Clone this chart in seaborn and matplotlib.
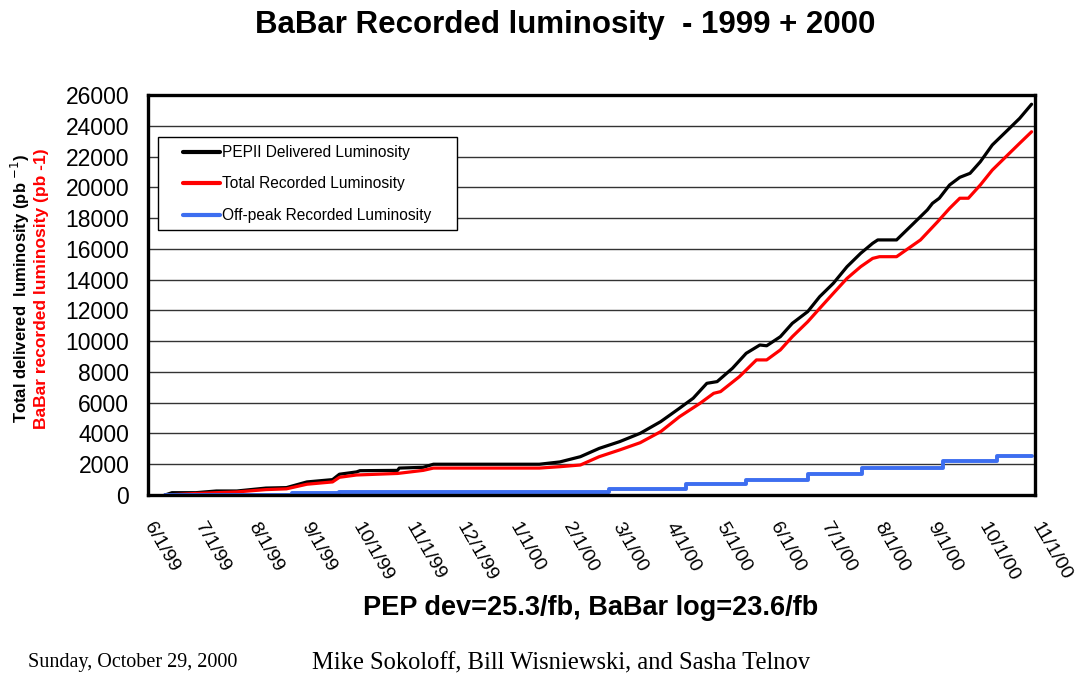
import matplotlib
matplotlib.use("Agg")
import matplotlib.pyplot as plt
from matplotlib.patches import Rectangle
import seaborn as sns
import pandas as pd

# ---------------- data ----------------
pep_dates = ["1999-06-11", "1999-06-15", "1999-06-29", "1999-07-11", "1999-07-23",
             "1999-08-09", "1999-08-21", "1999-09-02", "1999-09-17", "1999-09-21",
             "1999-10-01", "1999-10-03", "1999-10-25", "1999-10-26", "1999-11-09",
             "1999-11-15", "2000-01-16", "2000-01-28", "2000-02-09", "2000-02-20",
             "2000-03-03", "2000-03-15", "2000-03-27", "2000-04-07", "2000-04-15",
             "2000-04-23", "2000-04-29", "2000-05-08", "2000-05-16", "2000-05-24",
             "2000-05-28", "2000-06-05", "2000-06-12", "2000-06-21", "2000-06-28",
             "2000-07-06", "2000-07-14", "2000-07-22", "2000-07-29", "2000-08-01",
             "2000-08-12", "2000-08-22", "2000-08-30", "2000-09-02", "2000-09-06",
             "2000-09-12", "2000-09-18", "2000-09-24", "2000-09-30", "2000-10-07",
             "2000-10-16", "2000-10-23", "2000-10-30"]
pep_values = [0, 150, 150, 260, 260,
              450, 480, 850, 1000, 1350,
              1500, 1580, 1600, 1750, 1800,
              2000, 2000, 2150, 2490, 3030,
              3470, 4010, 4770, 5640, 6290,
              7260, 7370, 8240, 9210, 9750,
              9700, 10290, 11160, 11920, 12890,
              13760, 14840, 15710, 16360, 16580,
              16580, 17660, 18530, 18960, 19290,
              20150, 20650, 20910, 21660, 22750,
              23720, 24480, 25400]

rec_dates = ["1999-06-11", "1999-06-29", "1999-07-23", "1999-08-09", "1999-08-21",
             "1999-09-02", "1999-09-17", "1999-09-21", "1999-10-01", "1999-10-25",
             "1999-11-09", "1999-11-15", "2000-01-16", "2000-01-28", "2000-02-09",
             "2000-02-20", "2000-03-03", "2000-03-15", "2000-03-27", "2000-04-07",
             "2000-04-19", "2000-04-27", "2000-05-01", "2000-05-12", "2000-05-22",
             "2000-05-28", "2000-06-05", "2000-06-12", "2000-06-21", "2000-06-28",
             "2000-07-06", "2000-07-14", "2000-07-22", "2000-07-29", "2000-08-02",
             "2000-08-12", "2000-08-26", "2000-09-05", "2000-09-12", "2000-09-18",
             "2000-09-23", "2000-09-30", "2000-10-07", "2000-10-16", "2000-10-23",
             "2000-10-30"]
rec_values = [0, 100, 200, 350, 400,
              700, 850, 1150, 1300, 1400,
              1600, 1750, 1750, 1840, 1950,
              2490, 2930, 3400, 4120, 5090,
              5960, 6610, 6720, 7690, 8780,
              8780, 9430, 10290, 11260, 12130,
              13110, 14080, 14840, 15380, 15490,
              15490, 16580, 17760, 18630, 19290,
              19290, 20150, 21120, 22100, 22860,
              23610]

off_dates = ["1999-06-11", "1999-08-24", "1999-09-21", "2000-02-26", "2000-04-11",
             "2000-05-16", "2000-06-21", "2000-07-23", "2000-09-08", "2000-10-10",
             "2000-10-30"]
off_values = [0, 100, 200, 370, 690, 975, 1340, 1730, 2210, 2560, 2560]

series_labels = ["PEPII Delivered Luminosity", "Total Recorded Luminosity",
                 "Off-peak Recorded Luminosity"]
tick_dates = pd.date_range("1999-06-01", "2000-11-01", freq="MS")
tick_labels = ["6/1/99", "7/1/99", "8/1/99", "9/1/99", "10/1/99", "11/1/99",
               "12/1/99", "1/1/00", "2/1/00", "3/1/00", "4/1/00", "5/1/00",
               "6/1/00", "7/1/00", "8/1/00", "9/1/00", "10/1/00", "11/1/00"]
y_ticks = list(range(0, 26001, 2000))

# ---------------- plot ----------------
sns.set_theme(style="white")
plt.rcParams["font.family"] = ["Liberation Sans", "DejaVu Sans"]
plt.rcParams["text.color"] = "black"
plt.rcParams["xtick.color"] = "black"
plt.rcParams["ytick.color"] = "black"
plt.rcParams["axes.labelcolor"] = "black"

W, H = 1077, 679
fig = plt.figure(figsize=(W / 100, H / 100), dpi=100)
ax = fig.add_axes([148 / W, 1 - 495 / H, (1035 - 148) / W, 400 / H])

pep = pd.DataFrame({"date": pd.to_datetime(pep_dates), "lum": pep_values})
rec = pd.DataFrame({"date": pd.to_datetime(rec_dates), "lum": rec_values})
off = pd.DataFrame({"date": pd.to_datetime(off_dates), "lum": off_values})

sns.lineplot(data=pep, x="date", y="lum", ax=ax, color="black", lw=2.3,
             label=series_labels[0])
sns.lineplot(data=rec, x="date", y="lum", ax=ax, color="#ff0000", lw=2.3,
             label=series_labels[1])
sns.lineplot(data=off, x="date", y="lum", ax=ax, color="#3d6ef0", lw=2.8,
             drawstyle="steps-post", label=series_labels[2])

ax.set_xlim(pd.Timestamp("1999-06-01"), pd.Timestamp("2000-11-01"))
ax.set_ylim(0, 26000)
ax.set_yticks(y_ticks)
ax.set_yticklabels([str(v) for v in y_ticks], fontsize=16.5)
ax.set_xticks(tick_dates)
ax.set_xticklabels(tick_labels, fontsize=14, rotation=-60,
                   ha="left", va="center", rotation_mode="anchor")
ax.tick_params(axis="x", direction="inout", length=11, width=2, pad=15)
ax.tick_params(axis="y", direction="inout", length=11, width=2, pad=8)
ax.yaxis.grid(True, color="#333333", lw=1.0)
ax.xaxis.grid(False)
ax.set_axisbelow(True)
for s in ax.spines.values():
    s.set_color("black")
    s.set_linewidth(2.4)
ax.set_xlabel("")
ax.set_ylabel("")

# legend (frame drawn separately to get wide side padding)
frame = Rectangle((158 / W, 1 - 230 / H), 299 / W, 93 / H, transform=fig.transFigure,
                  facecolor="white", edgecolor="black", lw=1.0, zorder=4)
ax.add_patch(frame)
leg = ax.legend(loc="upper left", bbox_to_anchor=(183 / W, 1 - 145 / H),
                bbox_transform=fig.transFigure, frameon=False, fontsize=11.2,
                handlelength=2.4, handletextpad=0.1, labelspacing=1.06,
                borderpad=0, borderaxespad=0)
leg.set_zorder(5)
for h in leg.get_lines():
    h.set_linewidth(3)
    h.set_drawstyle("default")

fig.text(0.525, 1 - 25 / H, "BaBar Recorded luminosity  - 1999 + 2000", ha="center",
         va="center", fontsize=22.5, fontweight="bold")
fig.text(20 / W, 1 - 288 / H, "Total delivered  luminosity (pb $^{-1}$)", rotation=90,
         ha="center", va="center", fontsize=12, fontweight="bold")
fig.text(42 / W, 1 - 289 / H, "BaBar recorded luminosity (pb -1)", rotation=90,
         ha="center", va="center", fontsize=12.5, fontweight="bold", color="#ff0000")
fig.text(591 / W, 1 - 608 / H, "PEP dev=25.3/fb, BaBar log=23.6/fb", ha="center",
         va="center", fontsize=19.5, fontweight="bold")
serif = ["Liberation Serif", "DejaVu Serif"]
fig.text(28 / W, 1 - 663 / H, "Sunday, October 29, 2000", ha="left", va="center",
         fontsize=14.5, family=serif)
fig.text(312 / W, 1 - 663 / H, "Mike Sokoloff, Bill Wisniewski, and Sasha Telnov",
         ha="left", va="center", fontsize=17.7, family=serif)

fig.savefig("out.png", dpi=100, facecolor="white")
